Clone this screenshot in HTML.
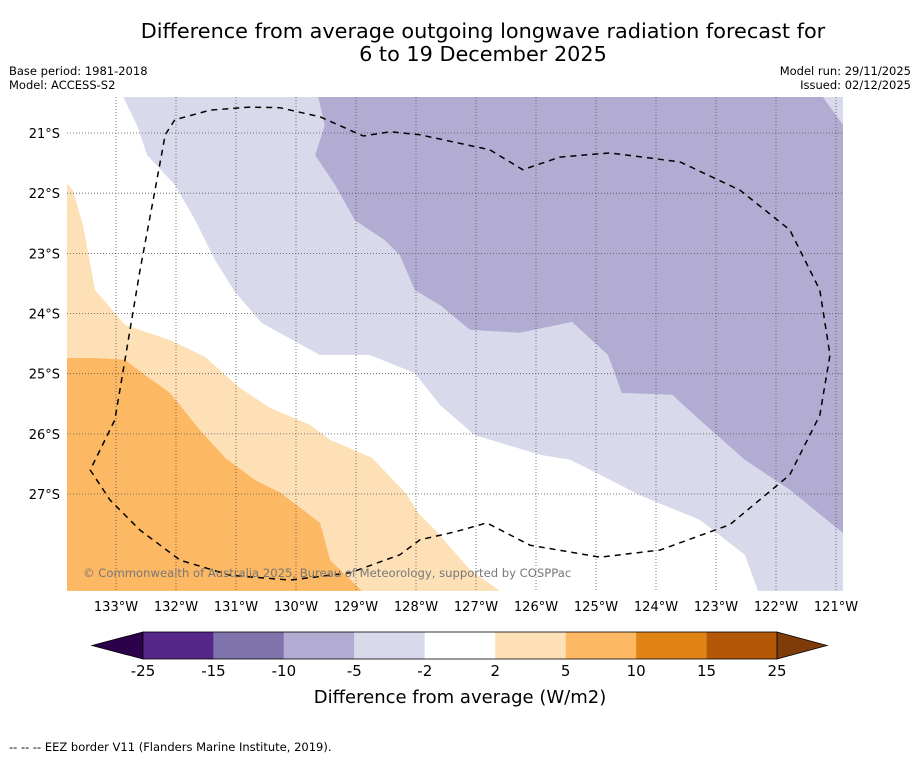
<!DOCTYPE html>
<html><head><meta charset="utf-8"><style>
body{margin:0;background:#fff;font-family:"Liberation Sans","DejaVu Sans",sans-serif;}
svg text{font-family:"DejaVu Sans","Liberation Sans",sans-serif;}
</style></head><body>
<svg id="chart" width="919" height="758" xmlns="http://www.w3.org/2000/svg">
<rect width="919" height="758" fill="#fff"/>
<text x="483" y="38" font-size="20.8" text-anchor="middle">Difference from average outgoing longwave radiation forecast for</text>
<text x="483" y="61" font-size="20.8" text-anchor="middle">6 to 19 December 2025</text>
<text x="9" y="75" font-size="11.5">Base period: 1981-2018</text>
<text x="9" y="89" font-size="11.5">Model: ACCESS-S2</text>
<text x="911" y="75" font-size="11.5" text-anchor="end">Model run: 29/11/2025</text>
<text x="911" y="89" font-size="11.5" text-anchor="end">Issued: 02/12/2025</text>
<defs><clipPath id="mapclip"><rect x="67" y="97" width="776" height="494"/></clipPath></defs>
<g id="map" clip-path="url(#mapclip)"></g>
<g id="axes"></g>
<g id="cbar"></g>
<text x="83" y="577" font-size="11.6" fill="#777">© Commonwealth of Australia 2025, Bureau of Meteorology, supported by COSPPac</text>
<text x="460" y="703" font-size="18" text-anchor="middle">Difference from average (W/m2)</text>
<text x="9" y="751" font-size="11.5">--  --  -- EEZ border V11 (Flanders Marine Institute, 2019).</text>
</svg>
<script>
const lonTicks=[133,132,131,130,129,128,127,126,125,124,123,122,121];
const latTicks=[21,22,23,24,25,26,27];
const levelBounds=[-25,-15,-10,-5,-2,2,5,10,15,25];
const levelColors=["#542788","#8073ac","#b2abd2","#d8daeb","#ffffff","#fee0b6","#fdb863","#e08214","#b35806"];
const lavenderRegion=[[132.88,20.4],[132.65,20.87],[132.48,21.37],[132.02,21.86],[131.68,22.45],[131.35,23.11],[131.02,23.64],[130.57,24.16],[129.6,24.69],[128.77,24.69],[128.02,24.99],[127.6,25.52],[127.02,26.02],[125.93,26.35],[125.43,26.43],[124.93,26.68],[124.27,27.02],[123.27,27.43],[122.52,28.01],[122.3,28.61],[120.88,28.61],[120.88,20.4]];
const purpleRegion=[[129.63,20.4],[129.52,20.87],[129.68,21.37],[129.35,21.86],[129.02,22.45],[128.52,22.78],[128.27,23.03],[128.02,23.61],[127.6,23.86],[127.1,24.27],[126.27,24.32],[125.4,24.14],[124.8,24.69],[124.57,25.32],[123.73,25.35],[123.27,25.77],[122.52,26.43],[121.77,26.93],[120.88,27.65],[120.88,20.87],[121.22,20.4]];
const lightOrangeRegion=[[133.82,21.83],[133.72,21.95],[133.55,22.53],[133.35,23.61],[132.85,24.19],[132.1,24.44],[131.52,24.72],[130.93,25.24],[130.43,25.57],[129.77,25.85],[129.43,26.1],[128.73,26.4],[128.18,26.98],[127.93,27.35],[127.68,27.6],[127.1,28.26],[126.6,28.61],[133.82,28.61]];
const orangeRegion=[[133.82,24.74],[133.35,24.74],[132.85,24.77],[132.52,25.02],[132.1,25.32],[131.6,25.94],[131.18,26.4],[130.68,26.77],[130.27,26.97],[129.6,27.48],[129.43,28.1],[128.9,28.61],[133.82,28.61]];
const eezBorder=[[132.02,20.78],[132.18,21.03],[132.35,21.95],[132.6,23.28],[132.85,24.77],[133.02,25.77],[133.43,26.6],[133.1,27.1],[132.6,27.6],[131.93,28.1],[131.1,28.35],[130.1,28.43],[129.1,28.31],[128.27,28.01],[127.93,27.76],[127.35,27.63],[126.82,27.48],[126.1,27.85],[124.93,28.05],[123.93,27.93],[122.77,27.51],[121.77,26.68],[121.27,25.69],[121.1,24.69],[121.27,23.61],[121.77,22.61],[122.6,21.95],[123.6,21.48],[124.77,21.33],[125.6,21.4],[126.22,21.61],[126.77,21.28],[127.93,21.03],[128.43,20.98],[128.88,21.05],[129.6,20.73],[130.27,20.58],[130.77,20.57],[131.43,20.62],[132.02,20.78]];

const NS="http://www.w3.org/2000/svg";
const xLon=l=>116+(133-l)*60;
const yLat=l=>133+(l-21)*60.17;
function mk(tag,attrs,parent){const e=document.createElementNS(NS,tag);for(const k in attrs)e.setAttribute(k,attrs[k]);parent.appendChild(e);return e;}
const map=document.getElementById('map');
const pts=a=>a.map(p=>xLon(p[0]).toFixed(1)+','+yLat(p[1]).toFixed(1)).join(' ');
const regions=[[lavenderRegion,"#d8daeb","region-minus5-to-minus2"],[purpleRegion,"#b2abd2","region-minus10-to-minus5"],[lightOrangeRegion,"#fee0b6","region-2-to-5"],[orangeRegion,"#fdb863","region-5-to-10"]];
regions.forEach(r=>{
  const p=mk('polygon',{points:pts(r[0]),fill:r[1]},map);
  
  
});
lonTicks.forEach(l=>{
  const ln=mk('line',{x1:xLon(l),x2:xLon(l),y1:97,y2:591,stroke:'#555','stroke-width':0.8,'stroke-dasharray':'1,2'},map);
  
  
});
latTicks.forEach(l=>{
  const ln=mk('line',{x1:67,x2:843,y1:yLat(l),y2:yLat(l),stroke:'#555','stroke-width':0.8,'stroke-dasharray':'1,2'},map);
  
  
});
const eez=mk('polyline',{points:pts(eezBorder),fill:'none',stroke:'#000','stroke-width':1.5,'stroke-dasharray':'6,5','stroke-linejoin':'round'},map);


const axes=document.getElementById('axes');
lonTicks.forEach(l=>{
  const t=mk('text',{x:xLon(l),y:611,'font-size':13,'text-anchor':'middle'},axes);
  t.textContent=l+'°W';
  
  
});
latTicks.forEach(l=>{
  const t=mk('text',{x:60,y:yLat(l)+5,'font-size':13,'text-anchor':'end'},axes);
  t.textContent=l+'°S';
  
  
});
const cb=document.getElementById('cbar');
const cx0=143,cx1=777,cy0=632,cy1=659,n=levelColors.length,w=(cx1-cx0)/n;
const lt=mk('polygon',{points:`${cx0},${cy0} ${cx0},${cy1} 92,${(cy0+cy1)/2}`,fill:'#2d004b',stroke:'#000','stroke-width':0.8},cb);


const rt=mk('polygon',{points:`${cx1},${cy0} ${cx1},${cy1} 827,${(cy0+cy1)/2}`,fill:'#7f3b08',stroke:'#000','stroke-width':0.8},cb);


levelColors.forEach((c,i)=>{
  const r=mk('rect',{x:cx0+i*w,y:cy0,width:w,height:cy1-cy0,fill:c},cb);
  
  
});
const fr=mk('rect',{x:cx0,y:cy0,width:cx1-cx0,height:cy1-cy0,fill:'none',stroke:'#000','stroke-width':0.8},cb);


levelBounds.forEach((v,i)=>{
  const t=mk('text',{x:cx0+i*w,y:676,'font-size':15,'text-anchor':'middle'},cb);
  t.textContent=v;
  
  
});
</script>
</body></html>
